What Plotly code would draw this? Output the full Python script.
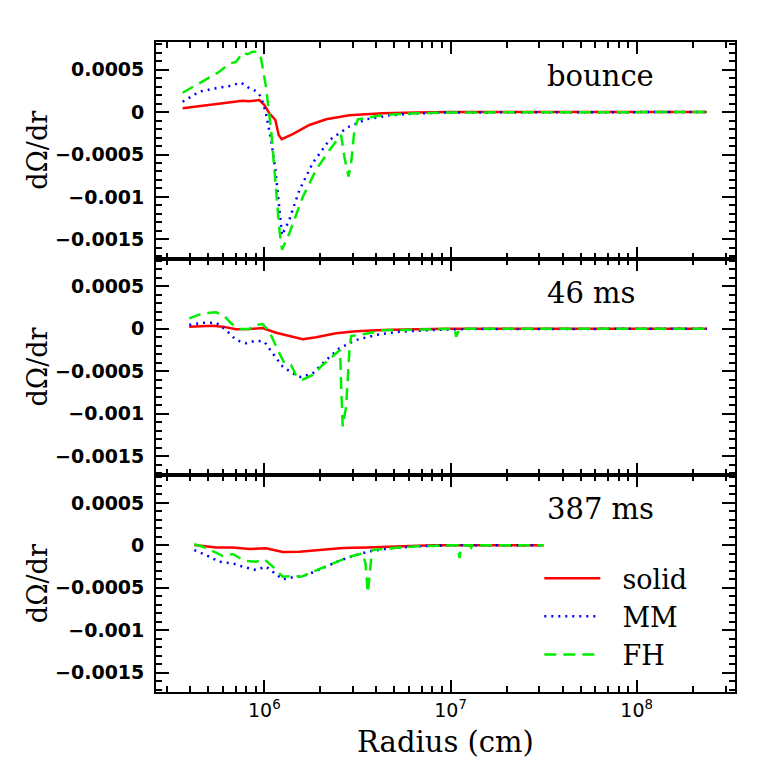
import plotly.graph_objects as go
from plotly.subplots import make_subplots

# ---------------- data (radius in cm, dOmega/dr) ----------------
panel_labels = ["bounce", "46 ms", "387 ms"]
series_names = ["solid", "MM", "FH"]

# bounce
b_solid_x = [3.64e5, 5.50e5, 6.49e5, 7.64e5, 8.30e5, 9.40e5, 1.00e6, 1.064e6, 1.146e6, 1.194e6,
             1.239e6, 1.419e6, 1.746e6, 2.148e6, 2.864e6, 4.325e6, 6.55e6, 1.0e7, 2.38e8]
b_solid_y = [4.4e-5, 9.4e-5, 1.14e-4, 1.33e-4, 1.26e-4, 1.41e-4, 8.2e-5, -1.6e-5, -9.4e-5, -2.7e-4,
             -3.2e-4, -2.6e-4, -1.53e-4, -8.6e-5, -3.9e-5, -1.6e-5, -5e-6, 0, 0]
b_mm_x = [3.64e5, 4.48e5, 5.50e5, 6.49e5, 7.50e5, 8.30e5, 9.02e5, 9.60e5, 1.02e6, 1.087e6, 1.146e6,
          1.194e6, 1.245e6, 1.361e6, 1.542e6, 1.820e6, 2.234e6, 2.864e6, 3.524e6, 4.70e6, 6.55e6,
          9.89e6, 2.38e8]
b_mm_y = [1.21e-4, 2.4e-4, 2.8e-4, 3.06e-4, 3.45e-4, 2.8e-4, 2.47e-4, 1.8e-4, -1.6e-5, -3.3e-4, -6.8e-4,
          -1.07e-3, -1.45e-3, -1.27e-3, -9.2e-4, -6.0e-4, -3.3e-4, -1.7e-4, -8.6e-5, -3.9e-5, -1.6e-5,
          -5e-6, 0]
b_fh_x = [3.64e5, 4.48e5, 5.73e5, 6.49e5, 7.05e5, 7.64e5, 8.13e5, 8.65e5, 9.20e5, 9.60e5, 1.02e6,
          1.087e6, 1.156e6, 1.205e6, 1.245e6, 1.361e6, 1.607e6, 1.897e6, 2.234e6, 2.582e6, 2.692e6,
          2.831e6, 2.924e6, 3.048e6, 3.177e6, 4.325e6, 6.55e6, 9.89e6, 2.38e8]
b_fh_y = [2.27e-4, 3.37e-4, 4.74e-4, 5.7e-4, 5.9e-4, 6.98e-4, 6.8e-4, 7.1e-4, 7.1e-4, 6.3e-4, 2.98e-4,
          -2.1e-4, -9.2e-4, -1.39e-3, -1.62e-3, -1.43e-3, -1.0e-3, -6.8e-4, -4.5e-4, -2.7e-4, -5.3e-4,
          -7.6e-4, -6.0e-4, -2.1e-4, -8.6e-5, -3.5e-5, -1.6e-5, -5e-6, 0]

# 46 ms
m_solid_x = [3.95e5, 5.27e5, 5.97e5, 7.05e5, 8.30e5, 9.79e5, 1.156e6, 1.361e6, 1.607e6, 1.897e6,
             2.427e6, 3.112e6, 4.325e6, 6.55e6, 1.0e7, 2.38e8]
m_solid_y = [2.4e-5, 3.5e-5, 2.4e-5, -7e-6, -4e-6, 8e-6, -4.7e-5, -8.6e-5, -1.25e-4, -1.0e-4,
             -5.4e-5, -3.1e-5, -1.5e-5, -7e-6, 0, 0]
m_mm_x = [3.95e5, 4.66e5, 5.50e5, 6.22e5, 7.05e5, 7.98e5, 9.02e5, 1.0e6, 1.109e6, 1.256e6, 1.419e6,
          1.574e6, 1.820e6, 2.148e6, 2.529e6, 3.112e6, 3.98e6, 5.32e6, 8.04e6, 1.213e7, 2.38e8]
m_mm_y = [4.4e-5, 7.1e-5, 7.1e-5, -1.5e-5, -1.33e-4, -1.72e-4, -1.41e-4, -1.53e-4, -2.9e-4, -4.47e-4,
          -5.25e-4, -5.7e-4, -5.25e-4, -3.7e-4, -2.3e-4, -1.33e-4, -7.4e-5, -3.5e-5, -1.5e-5, -5e-6, 0]
m_fh_x = [3.95e5, 4.66e5, 5.50e5, 6.10e5, 6.62e5, 7.35e5, 8.30e5, 9.02e5, 9.79e5, 1.064e6, 1.180e6,
          1.282e6, 1.390e6, 1.479e6, 1.607e6, 1.820e6, 2.056e6, 2.328e6, 2.553e6, 2.582e6, 2.636e6,
          2.748e6, 2.864e6, 2.924e6, 3.524e6, 4.325e6, 6.55e6, 9.89e6, 1.052e7, 1.072e7, 1.117e7, 2.38e8]
m_fh_y = [1.22e-4, 1.81e-4, 1.93e-4, 1.49e-4, 6.4e-5, -4e-6, -4e-6, 4.4e-5, 5.5e-5, -3.5e-5, -2.5e-4,
          -4.07e-4, -4.27e-4, -5.45e-4, -6.0e-4, -5.45e-4, -4.27e-4, -3.3e-4, -2.5e-4, -6.4e-4, -1.15e-3,
          -9.2e-4, -2.5e-4, -8.6e-5, -5.9e-5, -1.9e-5, -7e-6, 0, 0, -9.4e-5, 0, 0]

# 387 ms
l_solid_x = [4.21e5, 5.50e5, 6.76e5, 8.30e5, 1.02e6, 1.256e6, 1.542e6, 1.977e6, 2.636e6, 3.524e6,
             5.32e6, 8.04e6, 3.16e7]
l_solid_y = [4e-6, -2.4e-5, -2.4e-5, -4.4e-5, -3.5e-5, -7.9e-5, -7.5e-5, -5.9e-5, -3.2e-5, -2.4e-5,
             -8e-6, 0, 0]
l_mm_x = [4.21e5, 4.86e5, 5.73e5, 6.76e5, 7.64e5, 9.02e5, 1.02e6, 1.132e6, 1.256e6, 1.419e6, 1.675e6,
          2.056e6, 2.529e6, 3.112e6, 3.673e6, 4.70e6, 6.55e6, 9.89e6, 3.16e7]
l_mm_y = [-5.5e-5, -1.14e-4, -1.93e-4, -2.12e-4, -2.5e-4, -2.9e-4, -2.5e-4, -3.3e-4, -4.0e-4, -3.76e-4,
          -3.5e-4, -2.7e-4, -1.8e-4, -1.14e-4, -7e-5, -3.5e-5, -1.2e-5, 0, 0]
l_fh_x = [4.21e5, 4.66e5, 5.50e5, 5.97e5, 6.76e5, 7.80e5, 9.02e5, 1.0e6, 1.109e6, 1.256e6, 1.419e6,
          1.574e6, 1.820e6, 2.234e6, 2.864e6, 3.373e6, 3.491e6, 3.597e6, 3.698e6, 3.793e6, 4.70e6,
          6.55e6, 9.89e6, 1.094e7, 1.117e7, 1.140e7, 1.189e7, 1.27e7, 1.291e7, 1.31e7, 3.16e7]
l_fh_y = [1.5e-5, -1.6e-5, -8.6e-5, -1.26e-4, -1.02e-4, -1.8e-4, -1.93e-4, -1.65e-4, -2.5e-4, -3.7e-4,
          -3.6e-4, -3.7e-4, -3.1e-4, -2.3e-4, -1.34e-4, -9.4e-5, -2.1e-4, -5.6e-4, -2.9e-4, -5.5e-5,
          -3.5e-5, -1.2e-5, 0, 0, -1.5e-4, -3e-5, 0, 0, -2.5e-5, 0, 0]

y_tickvals = [0.0005, 0, -0.0005, -0.001, -0.0015]
y_ticktext = ["0.0005", "0", "\u22120.0005", "\u22120.001", "\u22120.0015"]
x_tickvals = [1e6, 1e7, 1e8]
x_ticktext = ["10<sup>6</sup>", "10<sup>7</sup>", "10<sup>8</sup>"]
x_minor_vals = [m * 10 ** e for e in (5, 6, 7, 8) for m in range(2, 10)]

panels = [
    [(b_solid_x, b_solid_y), (b_mm_x, b_mm_y), (b_fh_x, b_fh_y)],
    [(m_solid_x, m_solid_y), (m_mm_x, m_mm_y), (m_fh_x, m_fh_y)],
    [(l_solid_x, l_solid_y), (l_mm_x, l_mm_y), (l_fh_x, l_fh_y)],
]

styles = [
    dict(color="#ff0000", width=2.5, dash="solid"),
    dict(color="#0000ff", width=2.5, dash="2px,5px"),
    dict(color="#00ee00", width=2.5, dash="12px,7px"),
]

fig = make_subplots(rows=3, cols=1, shared_xaxes=True, vertical_spacing=0)

for r, panel in enumerate(panels, start=1):
    for i, (xs, ys) in enumerate(panel):
        fig.add_trace(go.Scatter(
            x=xs, y=ys, mode="lines", name="\u00a0\u00a0" + series_names[i],
            line=styles[i], showlegend=(r == 3), legendgroup=series_names[i],
        ), row=r, col=1)

serif = "DejaVu Serif"
for r in range(1, 4):
    fig.update_xaxes(
        type="log", range=[5.418, 8.528],
        tickmode="array", tickvals=x_tickvals, ticktext=x_ticktext,
        ticks="inside", ticklen=12, tickwidth=2, tickcolor="black",
        minor=dict(tickmode="array", tickvals=x_minor_vals, ticks="inside", ticklen=6,
                   tickwidth=1.5, tickcolor="black"),
        showline=True, linewidth=1.8, linecolor="black", mirror="allticks",
        showgrid=False, zeroline=False,
        showticklabels=(r == 3),
        tickfont=dict(family="DejaVu Sans", size=19, color="black"),
        row=r, col=1,
    )
    fig.update_yaxes(
        range=[-0.001726, 0.000824],
        tickmode="array", tickvals=y_tickvals, ticktext=y_ticktext,
        ticks="inside", ticklen=13, tickwidth=2, tickcolor="black",
        minor=dict(tick0=0, dtick=0.0001, ticks="inside", ticklen=6, tickwidth=1.5,
                   tickcolor="black"),
        showline=True, linewidth=1.8, linecolor="black", mirror="allticks",
        showgrid=False, zeroline=False,
        tickfont=dict(family="DejaVu Sans", size=19, color="black", weight="bold"),
        ticklabelstandoff=6,
        title=dict(text="d\u03a9/dr", font=dict(family=serif, size=27, color="black"), standoff=0),
        row=r, col=1,
    )

fig.update_xaxes(title=dict(text="Radius (cm)", font=dict(family=serif, size=29, color="black"),
                            standoff=12), row=3, col=1)

for r, lab in enumerate(panel_labels, start=1):
    xref = "x domain" if r == 1 else f"x{r} domain"
    yref = "y domain" if r == 1 else f"y{r} domain"
    fig.add_annotation(text=lab, x=0.672, y=0.843, xref=xref, yref=yref,
                       xanchor="left", yanchor="middle", showarrow=False,
                       font=dict(family=serif, size=29, color="black"))

fig.update_layout(
    width=775, height=775,
    margin=dict(l=156, r=40, t=42, b=83),
    paper_bgcolor="white", plot_bgcolor="white",
    showlegend=True,
    legend=dict(x=0.662, y=0.212, xanchor="left", yanchor="top",
                font=dict(family=serif, size=27, color="black"),
                bgcolor="rgba(0,0,0,0)", tracegroupgap=0, itemwidth=56),
)

fig.write_html("out.html", config={"displayModeBar": False},
               post_script="document.body.style.margin='0';")
